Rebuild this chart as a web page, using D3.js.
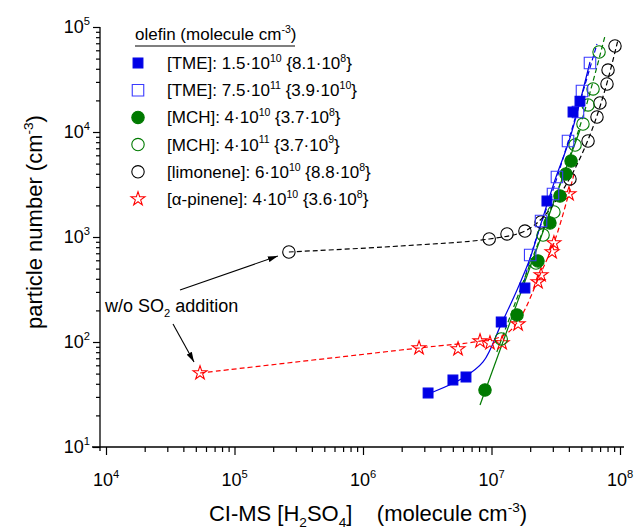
<!DOCTYPE html>
<html>
<head>
<meta charset="utf-8">
<script src="https://cdn.jsdelivr.net/npm/d3@7"></script>
<style>
body { margin: 0; background: #fff; }
text { font-family: Arial, "Liberation Sans", sans-serif; fill: #000; }
</style>
</head>
<body>
<div id="chart"></div>
<script>
const width = 635;
const height = 530;

// values: x = [H2SO4] (molecule cm-3), y = particle number (cm-3)
const tmeLoX = [3.21e6, 5.01e6, 6.33e6, 1.19e7, 1.82e7, 2.70e7, 4.31e7, 4.88e7];
const tmeLoY = [32.7, 43.5, 46.4, 155, 327, 2200, 15500, 19700];

const tmeHiX = [2.0e7, 2.43e7, 3.01e7, 3.23e7, 3.94e7, 4.71e7, 5.06e7, 5.84e7];
const tmeHiY = [674, 1420, 2570, 3730, 8210, 15500, 24550, 45400];

const mchLoX = [8.9e6, 1.58e7, 2.30e7, 2.85e7, 3.41e7, 3.80e7, 4.16e7];
const mchLoY = [34.9, 181, 591, 1360, 2460, 3980, 5300];

const mchHiX = [1.19e7, 2.22e7, 2.52e7, 3.06e7, 4.47e7, 5.15e7, 5.64e7, 6.17e7, 6.87e7];
const mchHiY = [107, 565, 1045, 1730, 7520, 11900, 18100, 25700, 57800];

const limX = [2.65e5, 9.6e6, 1.32e7, 1.82e7, 2.43e7, 4.08e7, 5.64e7, 6.62e7, 6.98e7, 7.92e7, 8.07e7, 9.14e7];
const limY = [720, 957, 1069, 1140, 1390, 3575, 8210, 13900, 18900, 28650, 38900, 65900];

const pinX = [5.39e4, 2.73e6, 5.49e6, 8.14e6, 9.73e6, 1.21e7, 1.61e7, 2.30e7, 2.43e7, 2.96e7, 3.06e7, 4.01e7];
const pinY = [50.7, 87.7, 85.8, 102, 97.8, 97.8, 148, 373, 435, 720, 877, 2570];

// fitted curves as drawn in the figure
const tmeLoFitX = [3.51e6, 6.0e6, 8.59e6, 1.19e7, 1.58e7, 2.0e7, 2.38e7, 3.12e7, 4.08e7, 5.84e7];
const tmeLoFitY = [33.4, 45.4, 64.5, 148, 313, 631, 1245, 3490, 8770, 46400];
const tmeHiFitX = [1.73e7, 2.0e7, 2.43e7, 3.01e7, 3.94e7, 5.06e7, 6.62e7];
const tmeHiFitY = [313, 631, 1330, 2800, 8030, 22500, 68900];
const mchLoFitX = [8.14e6, 4.88e7];
const mchLoFitY = [25.1, 10450];
const mchHiFitX = [1.10e7, 1.67e7, 2.61e7, 3.73e7, 5.34e7, 7.64e7];
const mchHiFitY = [80.3, 313, 1300, 4350, 16200, 82100];
const limFitX = [2.65e5, 1.94e6, 9.6e6, 1.82e7, 2.61e7, 4.08e7, 5.84e7, 7.64e7, 9.64e7];
const limFitY = [720, 820, 957, 1140, 1620, 3650, 9360, 25100, 75200];
const pinFitX = [5.39e4, 2.73e6, 8.14e6, 1.27e7, 1.67e7, 2.38e7, 3.12e7, 4.39e7];
const pinFitY = [50.7, 87.7, 102, 117, 169, 435, 936, 3980];

const legendTitle = "olefin (molecule cm^{-3})";
const legendLabels = [
    "[TME]: 1.5·10^{10} {8.1·10^{8}}",
    "[TME]: 7.5·10^{11} {3.9·10^{10}}",
    "[MCH]: 4·10^{10} {3.7·10^{8}}",
    "[MCH]: 4·10^{11} {3.7·10^{9}}",
    "[limonene]: 6·10^{10} {8.8·10^{8}}",
    "[α-pinene]: 4·10^{10} {3.6·10^{8}}"
];

const xTicks = [1e4, 1e5, 1e6, 1e7, 1e8];
const xTickLabels = ["10^{4}", "10^{5}", "10^{6}", "10^{7}", "10^{8}"];
const yTicks = [1e1, 1e2, 1e3, 1e4, 1e5];
const yTickLabels = ["10^{1}", "10^{2}", "10^{3}", "10^{4}", "10^{5}"];

const xTitle = "CI-MS [H_{2}SO_{4}]\u00a0\u00a0\u00a0 (molecule cm^{-3})";
const yTitle = "particle number (cm^{-3})";
const noteText = "w/o SO_{2} addition";

const blue = "#0000e6", lightBlue = "#3a3aff", green = "#007a00", red = "#ff0000";

const xScale = d3.scaleLog().domain([1e4, 1e8]).range([106, 620]);
const yScale = d3.scaleLog().domain([1e1, 1e5]).range([447, 27]);

const svg = d3.select("#chart").append("svg").attr("width", width).attr("height", height);

// text with ^{sup} and _{sub}
function rich(sel, str, fs) {
    const parts = str.split(/(\^\{[^}]*\}|_\{[^}]*\})/).filter(s => s.length);
    let shift = 0;
    parts.forEach(p => {
        let target = 0, txt = p, small = false;
        if (p.startsWith("^{")) { target = -0.42 * fs; txt = p.slice(2, -1); small = true; }
        else if (p.startsWith("_{")) { target = 0.28 * fs; txt = p.slice(2, -1); small = true; }
        const t = sel.append("tspan").attr("dy", target - shift).text(txt);
        if (small) t.attr("font-size", fs * 0.62);
        shift = target;
    });
}

// minor ticks
const minor = [];
for (let e = 1; e <= 7; e++) for (let m = 2; m <= 9; m++) minor.push(m * Math.pow(10, e));
const xMinor = minor.filter(v => v > 1e4 && v < 1e8);
const yMinor = minor.filter(v => v > 1e1 && v < 1e5);

//x axis
const gx = svg.append("g").attr("transform", "translate(0,447)");
gx.call(d3.axisBottom(xScale).tickValues(xTicks).tickSize(8).tickFormat(""));
gx.call(g => g.select(".domain").remove());
const gx2 = svg.append("g").attr("transform", "translate(0,447)");
gx2.call(d3.axisBottom(xScale).tickValues(xMinor).tickSize(5).tickFormat(""));
gx2.select(".domain").remove();
svg.append("line").attr("x1", 92).attr("x2", 624).attr("y1", 447).attr("y2", 447)
    .attr("stroke", "#000").attr("stroke-width", 1.3);

xTicks.forEach((v, i) => {
    const t = svg.append("text").attr("x", xScale(v)).attr("y", 486)
        .attr("text-anchor", "middle").attr("font-size", 18);
    rich(t, xTickLabels[i], 18);
});

//y axis
const gy = svg.append("g").attr("transform", "translate(100,0)");
gy.call(d3.axisLeft(yScale).tickValues(yTicks).tickSize(7).tickFormat(""));
gy.select(".domain").remove();
const gy2 = svg.append("g").attr("transform", "translate(100,0)");
gy2.call(d3.axisLeft(yScale).tickValues(yMinor).tickSize(4).tickFormat(""));
gy2.select(".domain").remove();
svg.append("line").attr("x1", 100).attr("x2", 100).attr("y1", 27).attr("y2", 451)
    .attr("stroke", "#000").attr("stroke-width", 1.3);
svg.selectAll(".tick line").attr("stroke-width", 1.2);

yTicks.forEach((v, i) => {
    const t = svg.append("text").attr("x", 90).attr("y", yScale(v) + 6)
        .attr("text-anchor", "end").attr("font-size", 18);
    rich(t, yTickLabels[i], 18);
});

// axis titles
const xt = svg.append("text").attr("x", 368).attr("y", 521).attr("text-anchor", "middle").attr("font-size", 22);
rich(xt, xTitle, 22);
const yt = svg.append("text").attr("transform", "translate(42,222) rotate(-90)")
    .attr("text-anchor", "middle").attr("font-size", 22);
rich(yt, yTitle, 22);

// lines
const line = d3.line().x(d => xScale(d[0])).y(d => yScale(d[1])).curve(d3.curveCatmullRom);
const fits = [
    { xs: tmeLoFitX, ys: tmeLoFitY, color: blue, dash: null },
    { xs: tmeHiFitX, ys: tmeHiFitY, color: blue, dash: "5,3" },
    { xs: mchLoFitX, ys: mchLoFitY, color: green, dash: null },
    { xs: mchHiFitX, ys: mchHiFitY, color: green, dash: "5,3" },
    { xs: limFitX, ys: limFitY, color: "#000", dash: "5,3" },
    { xs: pinFitX, ys: pinFitY, color: red, dash: "5,3" }
];
fits.forEach(f => {
    svg.append("path")
        .datum(f.xs.map((v, i) => [v, f.ys[i]]))
        .attr("d", line)
        .attr("fill", "none")
        .attr("stroke", f.color)
        .attr("stroke-width", 1.2)
        .attr("stroke-dasharray", f.dash);
});

// markers
const series = [
    { xs: pinX, ys: pinY, shape: "star", fill: "none", stroke: red },
    { xs: limX, ys: limY, shape: "circle", fill: "none", stroke: "#000" },
    { xs: mchHiX, ys: mchHiY, shape: "circle", fill: "none", stroke: green },
    { xs: mchLoX, ys: mchLoY, shape: "circle", fill: green, stroke: green },
    { xs: tmeHiX, ys: tmeHiY, shape: "square", fill: "none", stroke: lightBlue },
    { xs: tmeLoX, ys: tmeLoY, shape: "square", fill: blue, stroke: blue }
];

function drawMarker(g, s, cx, cy) {
    if (s.shape === "circle") {
        g.append("circle").attr("cx", cx).attr("cy", cy).attr("r", 6.2)
            .attr("fill", s.fill).attr("stroke", s.stroke).attr("stroke-width", 1.1);
    } else {
        const sym = s.shape === "star"
            ? d3.symbol(d3.symbolStar, 60)
            : d3.symbol(d3.symbolSquare, s.fill === "none" ? 132 : 96);
        g.append("path").attr("transform", `translate(${cx},${cy})`).attr("d", sym())
            .attr("fill", s.fill).attr("stroke", s.stroke).attr("stroke-width", 1.1);
    }
}

series.forEach(s => {
    const g = svg.append("g");
    s.xs.forEach((v, i) => drawMarker(g, s, xScale(v), yScale(s.ys[i])));
});

// legend
const legendOrder = [5, 4, 3, 2, 1, 0];
const lt = svg.append("text").attr("x", 135).attr("y", 40).attr("font-size", 17);
rich(lt, legendTitle, 17);
svg.append("line").attr("x1", 135).attr("x2", 295).attr("y1", 46).attr("y2", 46)
    .attr("stroke", "#000").attr("stroke-width", 1.2);
legendLabels.forEach((lab, i) => {
    const cy = 63 + i * 27.2;
    drawMarker(svg, series[legendOrder[i]], 138, cy);
    const t = svg.append("text").attr("x", 167).attr("y", cy + 6).attr("font-size", 17);
    rich(t, lab, 17);
});

// annotation
svg.append("defs").append("marker")
    .attr("id", "arrow").attr("viewBox", "0 0 10 6").attr("refX", 10).attr("refY", 3)
    .attr("markerWidth", 10).attr("markerHeight", 6).attr("markerUnits", "userSpaceOnUse")
    .attr("orient", "auto")
    .append("path").attr("d", "M0,0L10,3L0,6Z").attr("fill", "#000");

const nt = svg.append("text").attr("x", 105).attr("y", 312).attr("font-size", 18);
rich(nt, noteText, 18);

svg.append("line")
    .attr("x1", 180).attr("y1", 290)
    .attr("x2", xScale(limX[0]) - 11).attr("y2", yScale(limY[0]) + 4)
    .attr("stroke", "#000").attr("stroke-width", 1.1).attr("marker-end", "url(#arrow)");
svg.append("line")
    .attr("x1", 173).attr("y1", 324)
    .attr("x2", xScale(pinX[0]) - 6).attr("y2", yScale(pinY[0]) - 11)
    .attr("stroke", "#000").attr("stroke-width", 1.1).attr("marker-end", "url(#arrow)");
</script>
</body>
</html>
